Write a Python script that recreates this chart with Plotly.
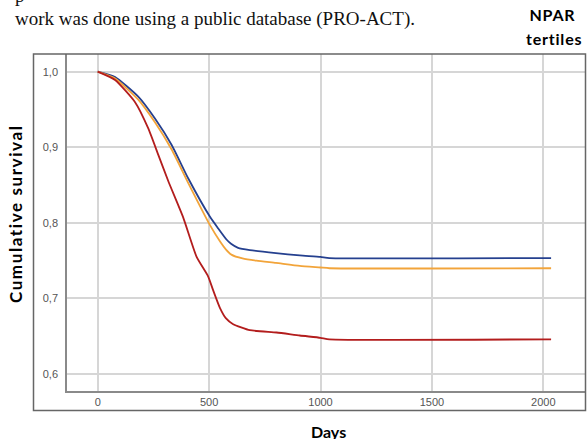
import plotly.graph_objects as go

# ---- data ----
blue_days = [0, 78, 182, 257, 332, 406, 504, 540, 578, 600, 630, 683, 800, 907, 1000, 1040, 2035]
blue_surv = [1.0, 0.993, 0.967, 0.938, 0.903, 0.859, 0.808, 0.793, 0.778, 0.772, 0.767, 0.764, 0.760, 0.757, 0.755, 0.7535, 0.7535]

orange_days = [0, 78, 182, 257, 332, 406, 504, 550, 575, 600, 650, 713, 800, 907, 1000, 1040, 2035]
orange_surv = [1.0, 0.991, 0.963, 0.933, 0.897, 0.853, 0.797, 0.775, 0.765, 0.758, 0.753, 0.750, 0.747, 0.743, 0.741, 0.740, 0.740]

red_days = [0, 78, 167, 227, 272, 317, 384, 444, 496, 518, 548, 575, 608, 683, 803, 907, 1000, 1040, 2035]
red_surv = [1.0, 0.989, 0.960, 0.925, 0.890, 0.855, 0.807, 0.755, 0.729, 0.711, 0.688, 0.674, 0.666, 0.658, 0.655, 0.651, 0.648, 0.646, 0.646]

x_ticks = [0, 500, 1000, 1500, 2000]
x_ticklabels = ["0", "500", "1000", "1500", "2000"]
y_ticks = [0.6, 0.7, 0.8, 0.9, 1.0]
y_ticklabels = ["0,6", "0,7", "0,8", "0,9", "1,0"]

W, H = 588, 439
L, R, T, B = 67, 2, 54, 48
PW, PH = W - L - R, H - T - B


def px(x):
    return (x - L) / PW


def py(y):
    return (H - B - y) / PH


fig = go.Figure()
for xs, ys, col, name in [
    (blue_days, blue_surv, "#25408f", "1"),
    (orange_days, orange_surv, "#f2a43a", "2"),
    (red_days, red_surv, "#b31d1d", "3"),
]:
    fig.add_trace(go.Scatter(x=xs, y=ys, mode="lines", name=name,
                             line=dict(color=col, width=1.8, shape="spline", smoothing=0.5),
                             showlegend=False, hoverinfo="skip"))

tickfont = dict(family="Liberation Sans, Arial, sans-serif", size=11, color="#555555")
fig.update_xaxes(range=[-137.8, 2191.7], tickvals=x_ticks, ticktext=x_ticklabels,
                 showgrid=True, gridcolor="#d6d6d6", gridwidth=1.5, zeroline=False,
                 showline=True, linecolor="#8a8a8a", linewidth=1.5,
                 ticks="", tickfont=tickfont, ticklabelstandoff=0)
fig.update_yaxes(range=[0.5776, 1.0234], tickvals=y_ticks, ticktext=y_ticklabels,
                 showgrid=True, gridcolor="#d6d6d6", gridwidth=1.5, zeroline=False,
                 showline=True, linecolor="#8a8a8a", linewidth=1.5,
                 ticks="", tickfont=tickfont, ticklabelstandoff=5)

fig.add_shape(type="rect", xref="paper", yref="paper",
              x0=px(33.5), x1=px(585.5), y0=py(410.5), y1=py(54),
              line=dict(color="#666666", width=1.5), fillcolor="rgba(0,0,0,0)")

serif = dict(family="Liberation Serif, Times New Roman, serif", size=19, color="#111111")
bold = dict(family="Lato, Open Sans, sans-serif", size=16, color="#000000")
anns = [
    dict(text="p", x=px(13), y=py(-5), xanchor="left", yanchor="middle", font=serif),
    dict(text="work was done using a public database (PRO-ACT).", x=px(13), y=py(19),
         xanchor="left", yanchor="middle", font=serif),
    dict(text="<b>NPAR</b>", x=px(529), y=py(15), xanchor="left", yanchor="middle", font=bold),
    dict(text="<b>tertiles</b>", x=px(527), y=py(39), xanchor="left", yanchor="middle", font=bold),
    dict(text="<b>Cumulative survival</b>", x=px(15), y=py(214), textangle=-90,
         xanchor="center", yanchor="middle",
         font=dict(family="Lato, Open Sans, sans-serif", size=17, color="#000000")),
    dict(text="<b>Days</b>", x=px(328), y=py(431), xanchor="center", yanchor="middle",
         font=dict(bold, size=16)),
]
for a in anns:
    fig.add_annotation(xref="paper", yref="paper", showarrow=False, **a)

fig.update_layout(width=W, height=H, margin=dict(l=L, r=R, t=T, b=B),
                  paper_bgcolor="white", plot_bgcolor="white", hovermode=False)

post = (
    "document.body.style.margin='0';document.body.style.overflow='hidden';"
    "document.querySelectorAll('text.annotation-text').forEach(function(t){"
    "if(t.textContent.indexOf('Cumulative')>=0){t.style.letterSpacing='1.6px';}"
    "if(t.textContent.indexOf('tertiles')>=0||t.textContent.indexOf('NPAR')>=0){t.style.letterSpacing='0.8px';}"
    "});"
)
fig.write_html("out.html", config={"displayModeBar": False}, post_script=post)
